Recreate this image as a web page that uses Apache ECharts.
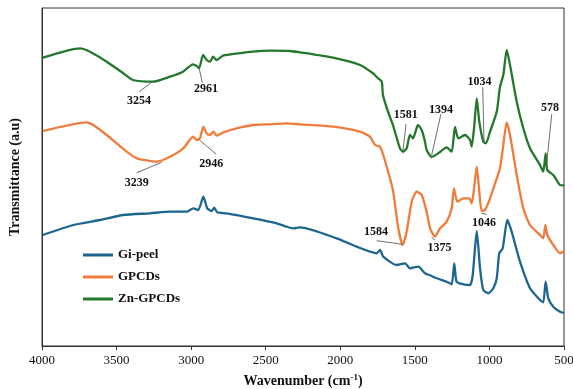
<!DOCTYPE html>
<html>
<head>
<meta charset="utf-8">
<script src="https://cdn.jsdelivr.net/npm/echarts@6/dist/echarts.min.js"></script>
<style>
  html, body { margin: 0; padding: 0; background: #fff; }
  #chart { width: 573px; height: 389px; }
</style>
</head>
<body>
<div id="chart"></div>
<script>
// x ticks (cm-1)
var xTicks = [4000, 3500, 3000, 2500, 2000, 1500, 1000, 500];
var seriesNames = ["Gi-peel", "GPCDs", "Zn-GPCDs"];

// Gi-peel
var giWave = [3995, 3790, 3611, 3455, 3276, 3142, 3030, 2986, 2952, 2918, 2892, 2862, 2845, 2825, 2762, 2583, 2426, 2359, 2315, 2270, 2024, 1890, 1756, 1734, 1712, 1622, 1566, 1533, 1477, 1432, 1398, 1354, 1287, 1253, 1236, 1220, 1175, 1130, 1112, 1085, 1063, 1041, 1008, 974, 951, 934, 911, 880, 851, 795, 728, 661, 639, 623, 605, 572, 527, 500];
var giVal = [111, 121, 126, 131, 132.7, 134.3, 134.3, 137.7, 136, 149.3, 137.7, 135, 138.3, 133.7, 132.7, 127.7, 122.7, 119.3, 117.7, 118.7, 107.7, 99.3, 92.7, 96, 89.3, 81, 82.7, 77.7, 79.3, 72.7, 70.7, 67.7, 64.3, 61.7, 82.7, 64.3, 61.7, 61, 71, 115, 77.7, 56, 52.7, 57.7, 67.7, 92.7, 97.7, 126, 114.3, 84.3, 57.7, 46, 43.7, 64.3, 47.7, 39.3, 34.3, 33];

// GPCDs
var gpWave = [3995, 3700, 3656, 3566, 3432, 3365, 3231, 3142, 3053, 2986, 2963, 2941, 2918, 2896, 2874, 2851, 2829, 2784, 2695, 2583, 2471, 2359, 2270, 2047, 1868, 1801, 1767, 1734, 1712, 1667, 1645, 1611, 1582, 1555, 1521, 1488, 1454, 1421, 1398, 1365, 1331, 1287, 1253, 1238, 1215, 1175, 1135, 1119, 1103, 1085, 1068, 1052, 1030, 996, 951, 929, 907, 884, 862, 817, 773, 728, 661, 639, 625, 612, 572, 527, 500];
var gpVal = [215, 223.7, 221, 211, 194.3, 187.7, 184.3, 189.3, 197.7, 209.3, 206, 207.7, 219.3, 212.7, 211, 214.3, 210.3, 213.7, 217.7, 221, 221.7, 222.7, 221.7, 219.3, 214.3, 209.3, 201, 199.3, 191, 167.7, 154.3, 117.7, 101, 114.3, 144.3, 154.3, 151, 134.3, 117.7, 109.3, 117.7, 124.3, 137.7, 157.7, 144.3, 147.7, 147.7, 142.7, 157.7, 179.3, 154.3, 135, 136, 147.7, 167.7, 177.7, 201, 223.7, 211, 171, 137.7, 121, 111, 107.7, 121, 111, 101, 92.7, 95];

// Zn-GPCDs
var znWave = [3995, 3745, 3678, 3566, 3457, 3390, 3256, 3142, 3055, 2988, 2963, 2947, 2920, 2896, 2874, 2853, 2829, 2786, 2585, 2471, 2337, 2270, 2049, 1868, 1781, 1747, 1722, 1714, 1680, 1647, 1600, 1580, 1555, 1533, 1512, 1479, 1454, 1432, 1421, 1387, 1343, 1287, 1253, 1231, 1209, 1164, 1130, 1119, 1103, 1085, 1068, 1041, 1023, 996, 951, 929, 907, 884, 862, 817, 773, 728, 661, 639, 623, 612, 572, 527, 500];
var znVal = [288.3, 297.7, 294.3, 284.3, 273, 266, 264.3, 269.3, 274.3, 281.7, 280, 277.7, 291, 286, 284.3, 289.3, 286, 290.3, 294.3, 295.3, 295, 293.7, 288.3, 281, 272.7, 267.7, 264.3, 251, 234.3, 221, 197.7, 194.3, 197.7, 211, 207.7, 221, 216, 204.3, 196, 189, 192.7, 198.7, 194.3, 219, 207.7, 211, 206, 199.3, 218, 247.7, 224.3, 204.3, 202.7, 214.3, 234.3, 259.3, 271, 296, 281, 244.3, 217.7, 197.7, 181, 174.3, 192.7, 176, 171, 161, 160.5];

// peak labels: text, label anchor [w, y], leader from [w, y] to [w, y]
var gpLabels = [
  ["3239", [3365, 163], [3365, 173.3], [3197, 183.7]],
  ["2946", [2865, 182], [2945, 206], [2833, 192]],
  ["1584", [1761, 114.3], [1756, 105.3], [1582, 101.7]],
  ["1375", [1335, 97.7], [1387, 108.7], [1365, 106]],
  ["1046", [1036, 122.7], [1052, 132.7], [1018, 131.7]]
];
var znLabels = [
  ["3254", [3350, 245.3], [3348, 254.3], [3258, 264.3]],
  ["2961", [2900, 256.7], [2945, 276.7], [2925, 263.3]],
  ["1581", [1561, 231], [1559, 222], [1581, 193.3]],
  ["1394", [1325, 236], [1325, 232], [1387, 191]],
  ["1034", [1067, 264.3], [1045, 258.7], [1036, 202.7]],
  ["578", [594, 237.7], [582, 232], [616, 182.7]]
];

var colors = ["#1c6690", "#f07c3c", "#23782c"];
var serif = "'Liberation Serif', 'DejaVu Serif', serif";

function zip(w, v) {
  return w.map(function (x, i) { return [x, v[i]]; });
}

function marks(labels) {
  return {
    markLine: {
      silent: true,
      symbol: ["none", "none"],
      label: { show: false },
      lineStyle: { color: "#4a4a4a", width: 0.8, type: "solid" },
      data: labels.map(function (l) {
        return [{ coord: l[2] }, { coord: l[3] }];
      })
    },
    markPoint: {
      silent: true,
      symbol: "circle",
      symbolSize: 0,
      label: {
        show: true,
        position: "inside",
        formatter: "{b}",
        fontFamily: serif,
        fontWeight: "bold",
        fontSize: 12,
        color: "#111"
      },
      data: labels.map(function (l) {
        return { name: l[0], coord: l[1] };
      })
    }
  };
}

var chart = echarts.init(document.getElementById("chart"));

var base = {
  type: "line",
  showSymbol: false,
  smooth: 0.2,
  animation: false,
  lineStyle: { width: 2.3 }
};

var option = {
  animation: false,
  color: colors,
  grid: {
    left: 42, right: 9, top: 8, bottom: 43,
    outerBoundsMode: "none",
    show: true, borderColor: "#333", borderWidth: 1
  },
  legend: {
    data: seriesNames,
    orient: "vertical",
    left: 78,
    top: 243,
    icon: "rect",
    itemWidth: 30,
    itemHeight: 3,
    itemGap: 8,
    textStyle: { fontFamily: serif, fontWeight: "bold", fontSize: 13, color: "#111", lineHeight: 14 }
  },
  xAxis: {
    type: "value",
    inverse: true,
    min: 500,
    max: 4000,
    interval: 500,
    name: "{a|Wavenumber (cm}{s|-1}{a|)}",
    nameLocation: "middle",
    nameGap: 27,
    nameTextStyle: {
      rich: {
        a: { fontFamily: serif, fontWeight: "bold", fontSize: 14, color: "#111", lineHeight: 16 },
        s: { fontFamily: serif, fontWeight: "bold", fontSize: 9, color: "#111", lineHeight: 9, verticalAlign: "top" }
      }
    },
    axisLine: { lineStyle: { color: "#333", width: 1 } },
    axisTick: { show: true, length: 4, lineStyle: { color: "#333" } },
    axisLabel: {
      fontFamily: serif, fontSize: 13, color: "#111", margin: 8,
      formatter: function (v) { return xTicks.indexOf(v) >= 0 ? String(v) : ""; }
    },
    splitLine: { show: false }
  },
  yAxis: {
    type: "value",
    min: 0,
    max: 338,
    name: "Transmittance (a.u)",
    nameLocation: "middle",
    nameGap: 20,
    nameTextStyle: { fontFamily: serif, fontWeight: "bold", fontSize: 14, color: "#111" },
    axisLine: { show: true, lineStyle: { color: "#333", width: 1 } },
    axisTick: { show: false },
    axisLabel: { show: false },
    splitLine: { show: false }
  },
  series: [
    Object.assign({}, base, { name: seriesNames[0], data: zip(giWave, giVal) }),
    Object.assign({}, base, { name: seriesNames[1], data: zip(gpWave, gpVal) }, marks(gpLabels)),
    Object.assign({}, base, { name: seriesNames[2], data: zip(znWave, znVal) }, marks(znLabels))
  ]
};

chart.setOption(option);
</script>
</body>
</html>
